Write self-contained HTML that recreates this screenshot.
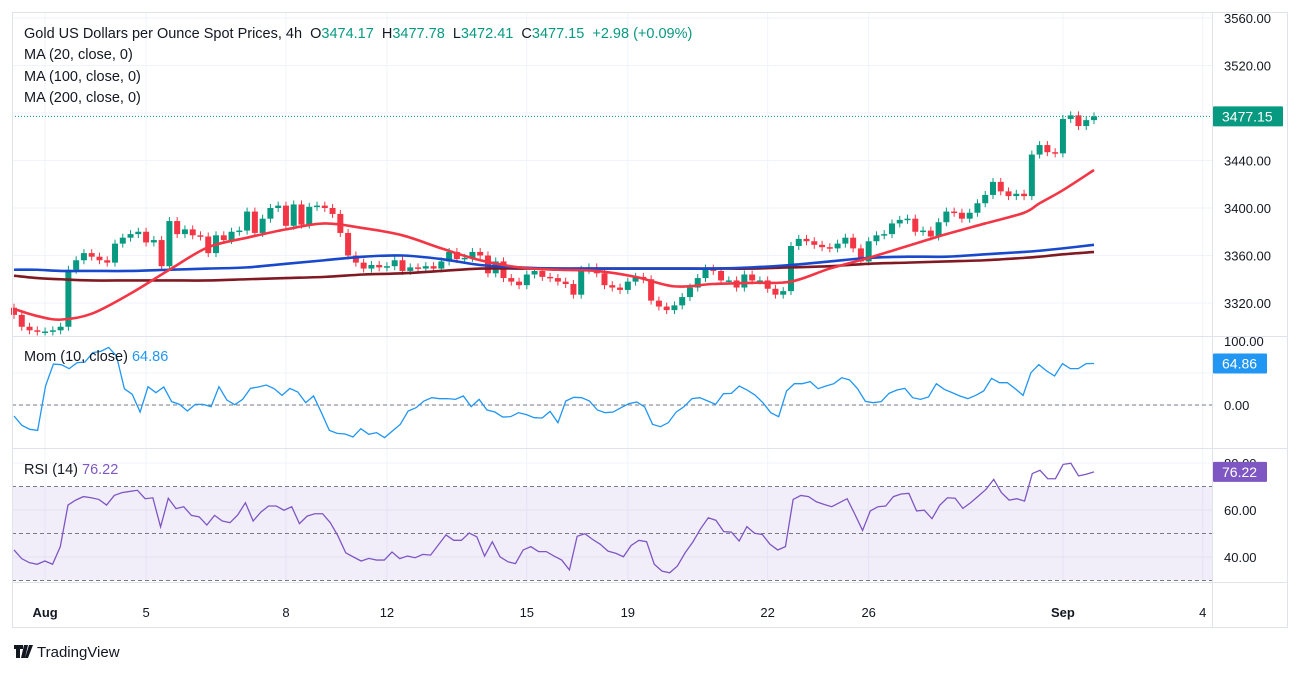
<!DOCTYPE html>
<html><head><meta charset="utf-8"><style>
body{margin:0;background:#fff;font-family:"Liberation Sans",sans-serif;}
svg text{font-family:"Liberation Sans",sans-serif;}
</style></head><body>
<svg id="c" width="1301" height="673" xmlns="http://www.w3.org/2000/svg">
<rect x="0" y="0" width="1301" height="673" fill="#fff"/>
<g id="grid"></g>
<g id="rsiband"></g>
<g id="marks"></g>
<g id="frame">
<rect x="12.5" y="12.5" width="1275" height="615" fill="none" stroke="#e0e3eb"/>
<line x1="12" y1="336.5" x2="1288" y2="336.5" stroke="#e0e3eb"/>
<line x1="12" y1="448.5" x2="1288" y2="448.5" stroke="#e0e3eb"/>
<line x1="12" y1="582.5" x2="1288" y2="582.5" stroke="#e0e3eb"/>
<line x1="1212.5" y1="12" x2="1212.5" y2="628" stroke="#e0e3eb"/>
</g>
<g id="axes"></g>
<g font-size="14.5" fill="#131722">
<text x="24" y="38" xml:space="preserve">Gold US Dollars per Ounce Spot Prices, 4h  <tspan>O</tspan><tspan fill="#089981">3474.17</tspan>  <tspan>H</tspan><tspan fill="#089981">3477.78</tspan>  <tspan>L</tspan><tspan fill="#089981">3472.41</tspan>  <tspan>C</tspan><tspan fill="#089981">3477.15</tspan>  <tspan fill="#089981">+2.98 (+0.09%)</tspan></text>
<text x="24" y="59">MA (20, close, 0)</text>
<text x="24" y="81">MA (100, close, 0)</text>
<text x="24" y="102">MA (200, close, 0)</text>
<text x="24" y="361">Mom (10, close) <tspan fill="#2196f3">64.86</tspan></text>
<text x="24" y="474">RSI (14) <tspan fill="#7e57c2">76.22</tspan></text>
</g>
<g>
<path d="M14 645h9v4h-3v9h-4v-9h-2z M24 645h4l-3 13h-4z M29 645h4l-5 13h-3z" fill="#131722"/>
<text x="37" y="657" font-size="15" fill="#131722">TradingView</text>
</g>
</svg>
<script>
const closes=[3310,3300,3297,3296,3296,3297,3300,
3348,3356,3362,3359,3356,3354,3370,3375,3378,3380,3371,3373,3351,3389,3378,3382,3377,3376,3362,3377,3373,3380,3381,3397,3379,3391,3400,3402,3385,3403,3386,3401,3402,3400,3395,3379,3360,3354,3349,3352,3350,3351,3356,
3347,3350,3349,3351,3349,3355,3363,3357,3358,3363,3360,3345,3355,3341,3338,3335,3344,3347,3342,3341,3338,3336,3327,3348,3350,3345,3335,3333,3331,3338,3342,3340,3322,3317,3314,3318,3325,3333,3341,3349,3347,3339,3339,3333,3344,3339,3339,3332,3327,3330,3368,3374,
3372,3369,3367,3366,3370,3375,3366,3355,3372,3377,3378,3387,3390,3391,3380,3381,3376,3388,3397,3396,3391,3396,3404,3411,3422,3414,3410,3412,3410,3445,3453,3447,3446,3475,3478,3469,3474,3477.15];
const firstOpen=3316;
const maIdx=[0,3,6,10,15,20,25,30,35,40,45,50,55,60,65,70,75,80,85,90,95,100,105,110,115,120,125,130,132,135,139];
const ma20=[3315,3309,3306,3311,3328,3348,3367,3375,3382,3387,3383,3377,3366,3356,3350,3348,3347,3342,3334,3336,3337,3338,3349,3358,3368,3378,3387,3396,3404,3415,3432];
const ma100=[3348,3348,3347,3347,3347,3348,3349,3350,3353,3356,3359,3360,3357,3352,3350,3349,3349,3349,3349,3349,3350,3352,3355,3358,3359,3359,3361,3363,3364,3366,3369];
const ma200=[3343,3341,3340,3339,3339,3339,3339,3340,3341,3342,3344,3345,3347,3349,3349,3349,3349,3349,3349,3349,3349,3350,3351,3353,3354,3355,3356,3358,3359,3361,3363];
const mom=[-17.2,-31.8,-38,-39.6,29.7,64,63,56.8,66,67.2,81.8,83.8,90,76.6,25.5,16.7,-11,28.6,19.3,28.1,5.2,1,-9.4,1,1,-2.6,28.6,7.8,0.5,8.8,26,28.1,31.2,25.5,15.1,26,20.3,3.6,14.1,-12,-39.6,-44.3,-45.3,-50,-37,-45.8,-43.2,-51,-40.6,-30.2,-9.4,-4.2,6.2,11.4,9.9,9.9,8.8,14.1,-2.6,8.8,-7.8,-11,-18.8,-18.2,-12,-15.1,-19.8,-20.3,-9.9,-27.6,6.2,12,11.4,
6.2,-7.8,-12,-11,-4.2,2.1,4.7,-3.1,-30.2,-33.9,-27.6,-11,-2.6,9.9,11.4,6.2,1,17.7,18.2,29.7,23.4,15.6,3.6,-12,-18.2,21.9,33.3,33.3,36.5,25.5,29.7,33.3,42.7,39.1,25.5,5.7,3.6,5.2,18.2,23.4,26,11.4,8.8,12.5,33.3,24.5,19.3,14.1,9.9,15.1,21.9,41.7,34.9,34.9,25.5,15.1,50.5,63,53.1,45.3,64.6,56.8,56.8,64.6,64.86];
const rsi=[43.0,39.3,37.6,36.9,38.3,36.9,44.4,62.1,64.2,65.7,65.2,64.5,62.1,66.2,67.4,67.9,68.4,64.8,65.2,52.8,65.0,60.6,61.4,57.7,57.1,53.6,57.7,55.3,54.6,57.9,63.1,55.3,59.1,61.7,61.7,59.9,61.4,54.2,57.4,58.4,58.4,54.6,48.9,41.8,40.0,38.3,39.4,38.7,38.7,42.1,39.3,40.4,39.7,41.1,40.8,45.1,49.4,47.1,47.1,50.2,48.6,40.4,46.5,40.1,38.0,37.2,43.0,44.4,42.3,42.3,40.4,38.7,34.5,48.8,49.9,47.5,
45.4,42.5,41.6,40.1,44.9,47.1,46.5,36.9,34.0,33.3,36.2,41.8,46.4,52.0,56.7,55.6,50.8,50.6,46.8,52.9,50.1,49.6,45.4,43.0,44.4,64.5,66.2,65.7,63.5,62.4,61.4,63.1,64.8,58.2,51.3,59.6,61.4,61.7,65.7,66.8,67.1,59.6,59.9,56.3,62.0,65.2,65.0,60.7,63.1,65.9,68.8,73.0,67.4,64.2,64.8,63.8,75.5,76.9,73.3,73.3,79.4,79.9,74.5,75.2,76.22];
const priceTicks=[3320,3360,3400,3440,3520,3560];
const momTicks=[100,0];
const rsiTicks=[80,60,40];
const dateLabels=["Aug","5","8","12","15","19","22","26","Sep","4"];
const dateIdx=[4,17,35,48,66,79,97,110,135,153];

const NS="http://www.w3.org/2000/svg";
const X0=14,X1=1094;
const xAt=i=>X0+i*(X1-X0)/(closes.length-1);
const yP=p=>18+(3560-p)*1.1875;
const yM=v=>405-v*0.64;
const yR=v=>463+(80-v)*2.35;
function mk(tag,attrs,parent){const e=document.createElementNS(NS,tag);for(const k in attrs)e.setAttribute(k,attrs[k]);parent.appendChild(e);return e;}
const grid=document.getElementById('grid'),marks=document.getElementById('marks'),axes=document.getElementById('axes'),band=document.getElementById('rsiband');

[3320,3360,3400,3440,3480,3520,3560].forEach(p=>{const l=mk('line',{x1:12,x2:1212,y1:yP(p),y2:yP(p),stroke:'#f0f3fa'},grid);});
[50,0].forEach(v=>{const l=mk('line',{x1:12,x2:1212,y1:yM(v),y2:yM(v),stroke:'#f0f3fa'},grid);});
[80,60,40].forEach(v=>{const l=mk('line',{x1:12,x2:1212,y1:yR(v),y2:yR(v),stroke:'#f0f3fa'},grid);});
dateIdx.forEach((di,k)=>{const x=xAt(di);if(x<1212){const l=mk('line',{x1:x,x2:x,y1:12,y2:582,stroke:'#f0f3fa'},grid);}
 const t=mk('text',{x:x,y:617,'text-anchor':'middle','font-size':13,fill:'#131722','font-weight':k==0||k==8?'bold':'normal'},axes);t.textContent=dateLabels[k];
 });

const rb=mk('rect',{x:12,y:yR(70),width:1200,height:yR(30)-yR(70),fill:'rgba(126,87,194,0.1)'},band);

[70,50,30].forEach(v=>{const l=mk('line',{x1:12,x2:1212,y1:yR(v),y2:yR(v),stroke:'#787b86','stroke-dasharray':'4 3'},band);});
const zl=mk('line',{x1:12,x2:1212,y1:yM(0),y2:yM(0),stroke:'#787b86','stroke-dasharray':'4 3'},band);


let prev=firstOpen;
closes.forEach((c,i)=>{const o=prev;prev=c;const up=c>=o;const col=up?'#089981':'#f23645';const x=xAt(i);
 const top=yP(Math.max(o,c)),bot=yP(Math.min(o,c));
 const g=mk('g',{},marks);
 
 
 mk('line',{x1:x,x2:x,y1:top-4,y2:bot+4,stroke:col,'stroke-width':1},g);
 mk('rect',{x:x-3,y:top,width:6,height:Math.max(1.5,bot-top),fill:col},g);});

function smoothPath(pts){let d='M'+pts[0][0]+','+pts[0][1];
 for(let i=0;i<pts.length-1;i++){const p0=pts[i-1]||pts[i],p1=pts[i],p2=pts[i+1],p3=pts[i+2]||p2;
  const c1=[p1[0]+(p2[0]-p0[0])/6,p1[1]+(p2[1]-p0[1])/6],c2=[p2[0]-(p3[0]-p1[0])/6,p2[1]-(p3[1]-p1[1])/6];
  d+=' C'+c1[0]+','+c1[1]+' '+c2[0]+','+c2[1]+' '+p2[0]+','+p2[1];}
 return d;}
function maLine(vals,col,name){const p=mk('path',{d:smoothPath(vals.map((v,k)=>[xAt(maIdx[k]),yP(v)])),fill:'none',stroke:col,'stroke-width':2.6,'stroke-linejoin':'round'},marks);
 }
maLine(ma200,'#801922','ma200-line');
maLine(ma100,'#1848cc','ma100-line');
maLine(ma20,'#f23645','ma20-line');
const momX=k=>X0+k*(X1-X0)/(mom.length-1);
const rsiX=k=>X0+k*(X1-X0)/(rsi.length-1);
const mp=mk('polyline',{points:mom.map((v,k)=>momX(k)+','+yM(v)).join(' '),fill:'none',stroke:'#2196f3','stroke-width':1.3},marks);

const rp=mk('polyline',{points:rsi.map((v,k)=>rsiX(k)+','+yR(v)).join(' '),fill:'none',stroke:'#7e57c2','stroke-width':1.3},marks);


const last=closes[closes.length-1];
const lp=mk('line',{x1:12,x2:1212,y1:yP(last),y2:yP(last),stroke:'#089981','stroke-dasharray':'1 2'},marks);


priceTicks.forEach(p=>{const t=mk('text',{x:1224,y:yP(p)+5,'font-size':13,fill:'#131722'},axes);t.textContent=p.toFixed(2);});
momTicks.forEach(v=>{const t=mk('text',{x:1224,y:yM(v)+5,'font-size':13,fill:'#131722'},axes);t.textContent=v.toFixed(2);});
rsiTicks.forEach(v=>{const t=mk('text',{x:1224,y:yR(v)+5,'font-size':13,fill:'#131722'},axes);t.textContent=v.toFixed(2);});
function badge(y,col,txt,name,w){const g=mk('g',{},axes);
 mk('rect',{x:1213,y:y-10,width:w,height:20,fill:col,rx:1},g);const t=mk('text',{x:1222,y:y+5,'font-size':14,fill:'#fff'},g);t.textContent=txt;}
badge(yP(last),'#089981',last.toFixed(2),'last-price-badge',70);
badge(yM(mom[mom.length-1]),'#2196f3',mom[mom.length-1].toFixed(2),'mom-value-badge',54);
badge(yR(rsi[rsi.length-1]),'#7e57c2',rsi[rsi.length-1].toFixed(2),'rsi-value-badge',54);
</script>
</body></html>
